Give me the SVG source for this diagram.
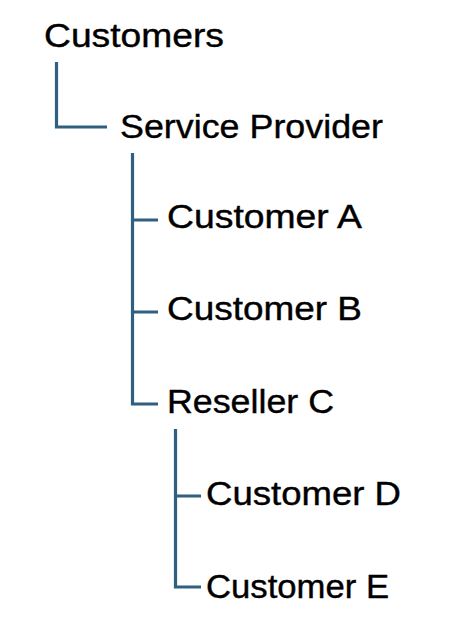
<svg xmlns="http://www.w3.org/2000/svg" width="454" height="632" viewBox="0 0 454 632">
<style>
.t{font-family:"Liberation Sans",Arial,sans-serif;font-size:33px;fill:#000;stroke:#000;stroke-width:0.4}
.c{fill:none;stroke:#2F6080;stroke-width:3.2;stroke-linecap:butt;stroke-linejoin:miter}
</style>
<rect width="454" height="632" fill="#fff"/>
<g id="connectors">
<path class="c" d="M56.5 62 V127 H107"/>
<path class="c" d="M132.5 153 V404 H158 M132.5 220 H158 M132.5 312 H158"/>
<path class="c" d="M175.5 429 V587 H201 M175.5 496 H201"/>
</g>
<g id="customers"><text class="t" x="44" y="47" textLength="180" lengthAdjust="spacingAndGlyphs">Customers</text></g>
<g id="service-provider"><text class="t" x="120" y="138" textLength="263" lengthAdjust="spacingAndGlyphs">Service Provider</text></g>
<g id="customer-a"><text class="t" x="167" y="228" textLength="195" lengthAdjust="spacingAndGlyphs">Customer A</text></g>
<g id="customer-b"><text class="t" x="167" y="320" textLength="195" lengthAdjust="spacingAndGlyphs">Customer B</text></g>
<g id="reseller-c"><text class="t" x="167" y="413" textLength="167" lengthAdjust="spacingAndGlyphs">Reseller C</text></g>
<g id="customer-d"><text class="t" x="206" y="505" textLength="195" lengthAdjust="spacingAndGlyphs">Customer D</text></g>
<g id="customer-e"><text class="t" x="206" y="598" textLength="183" lengthAdjust="spacingAndGlyphs">Customer E</text></g>
</svg>
